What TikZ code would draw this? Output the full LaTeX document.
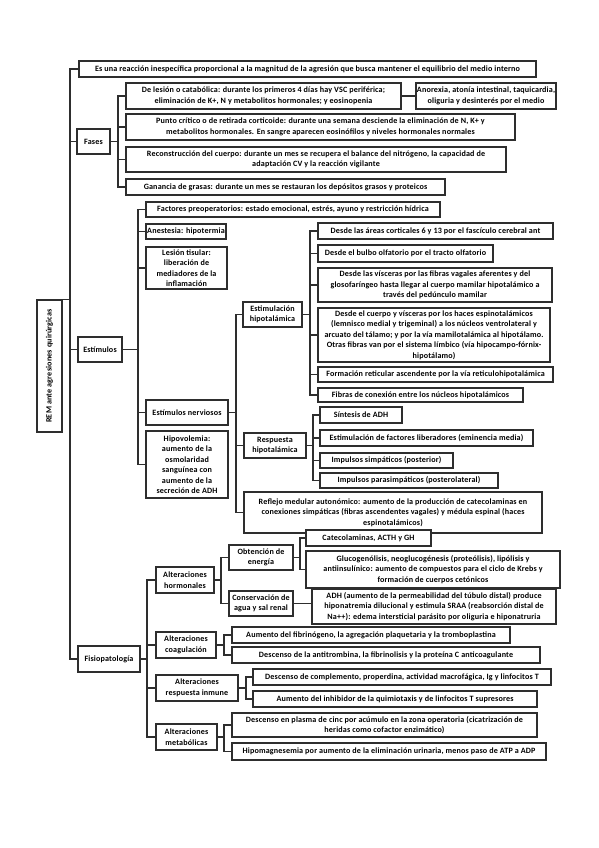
\documentclass[tikz,border=0pt]{standalone}
\usepackage{fontspec}
\setmainfont{Carlito}[LetterSpace=2]
\tikzset{
  bxs/.style={draw=black!82, line width=1.1pt, inner sep=0.5pt, align=center, fill=white,
    font=\fontsize{8.1}{10.5}\selectfont\bfseries},
  conn/.style={draw=black!82, line width=1.1pt}
}
\newcommand{\mybox}[6]{\node[bxs, minimum width={(#4-#2)*1pt}, minimum height={(#5-#3)*1pt}] (#1) at ({(#2+#4)/2},{(#3+#5)/2}) {#6};}
\newcommand{\branch}[3]{\foreach \cc in {#3} {\draw[conn] (#1.east) -- (#1.east -| #2) |- (\cc.west);}}
\begin{document}
\begin{tikzpicture}[x=1pt,y=-1pt]
\fill[white] (0,0) rectangle (599,848);
\useasboundingbox (0,0) rectangle (599,848);
% bus coordinates
\coordinate (bT) at (70,0);
\coordinate (bF) at (118,0);
\coordinate (bE) at (138,0);
\coordinate (bN) at (236,0);
\coordinate (bH) at (310,0);
\coordinate (bR) at (313,0);
\coordinate (bP) at (147,0);
\coordinate (bA) at (221,0);
\coordinate (bO) at (300,0);
\coordinate (bC) at (224,0);
\coordinate (bI) at (246,0);
\coordinate (bM) at (224,0);
% root
\node[bxs, rotate=90, minimum width=132pt, minimum height=25pt] (root) at (49.5,366) {REM ante agresiones quirúrgicas};
% level 1
\mybox{es}{79}{61}{536}{77}{Es una reacción inespecífica proporcional a la magnitud de la agresión que busca mantener el equilibrio del medio interno}
\mybox{fases}{77}{129}{110}{154}{Fases}
\mybox{est}{78}{337}{122}{362}{Estímulos}
\mybox{fis}{78}{646}{140}{672}{Fisiopatología}
% Fases
\mybox{f1}{126}{83}{401}{109}{De lesión o catabólica: durante los primeros 4 días hay VSC periférica;\\ eliminación de K+, N y metabolitos hormonales; y eosinopenia}
\mybox{f1b}{416}{83}{556}{109}{Anorexia, atonía intestinal, taquicardia,\\ oliguria y desinterés por el medio}
\mybox{f2}{126}{114}{515}{140}{Punto crítico o de retirada corticoide: durante una semana desciende la eliminación de N, K+ y\\ metabolitos hormonales. En sangre aparecen eosinófilos y niveles hormonales normales}
\mybox{f3}{126}{147}{506}{172}{Reconstrucción del cuerpo: durante un mes se recupera el balance del nitrógeno, la capacidad de\\ adaptación CV y la reacción vigilante}
\mybox{f4}{126}{179}{445}{195}{Ganancia de grasas: durante un mes se restauran los depósitos grasos y proteicos}
% Estimulos
\mybox{e1}{146}{202}{440}{217}{Factores preoperatorios: estado emocional, estrés, ayuno y restricción hídrica}
\mybox{e2}{146}{224}{226}{239}{Anestesia: hipotermia}
\mybox{e3}{146}{247}{227}{289}{Lesión tisular:\\ liberación de\\ mediadores de la\\ inflamación}
\mybox{e4}{146}{400}{228}{425}{Estímulos nerviosos}
\mybox{e5}{146}{431}{228}{498}{Hipovolemia:\\ aumento de la\\ osmolaridad\\ sanguínea con\\ aumento de la\\ secreción de ADH}
\mybox{n1}{243}{302}{302}{327}{Estimulación\\ hipotalámica}
\mybox{n2}{244}{433}{306}{458}{Respuesta\\ hipotalámica}
\mybox{n3}{244}{492}{542}{533}{Reflejo medular autonómico: aumento de la producción de catecolaminas en\\ conexiones simpáticas (fibras ascendentes vagales) y médula espinal (haces\\ espinotalámicos)}
\mybox{h1}{318}{223}{553}{239}{Desde las áreas corticales 6 y 13 por el fascículo cerebral ant}
\mybox{h2}{318}{245}{493}{262}{Desde el bulbo olfatorio por el tracto olfatorio}
\mybox{h3}{318}{268}{552}{302}{Desde las vísceras por las fibras vagales aferentes y del\\ glosofaríngeo hasta llegar al cuerpo mamilar hipotalámico a\\ través del pedúnculo mamilar}
\mybox{h4}{318}{308}{550}{362}{Desde el cuerpo y vísceras por los haces espinotalámicos\\ (lemnisco medial y trigeminal) a los núcleos ventrolateral y\\ arcuato del tálamo; y por la vía mamilotalámica al hipotálamo.\\ Otras fibras van por el sistema límbico (vía hipocampo-fórnix-\\ hipotálamo)}
\mybox{h5}{318}{367}{553}{382}{Formación reticular ascendente por la vía reticulohipotalámica}
\mybox{h6}{318}{388}{523}{402}{Fibras de conexión entre los núcleos hipotalámicos}
\mybox{r1}{320}{407}{402}{423}{Síntesis de ADH}
\mybox{r2}{320}{430}{533}{446}{Estimulación de factores liberadores (eminencia media)}
\mybox{r3}{320}{453}{453}{468}{Impulsos simpáticos (posterior)}
\mybox{r4}{320}{473}{498}{488}{Impulsos parasimpáticos (posterolateral)}
% Fisiopatologia
\mybox{a1}{156}{567}{214}{593}{Alteraciones\\ hormonales}
\mybox{a2}{156}{632}{216}{658}{Alteraciones\\ coagulación}
\mybox{a3}{156}{675}{238}{701}{Alteraciones\\ respuesta inmune}
\mybox{a4}{156}{724}{217}{750}{Alteraciones\\ metabólicas}
\mybox{o1}{229}{545}{293}{570}{Obtención de\\ energía}
\mybox{o2}{229}{591}{293}{616}{Conservación de\\ agua y sal renal}
\mybox{g1}{306}{530}{431}{546}{Catecolaminas, ACTH y GH}
\mybox{g2}{306}{551}{560}{588}{Glucogenólisis, neoglucogénesis (proteólisis), lipólisis y\\ antiinsulínico: aumento de compuestos para el ciclo de Krebs y\\ formación de cuerpos cetónicos}
\mybox{g3}{312}{589}{556}{624}{ADH (aumento de la permeabilidad del túbulo distal) produce\\ hiponatremia dilucional y estimula SRAA (reabsorción distal de\\ Na++): edema intersticial parásito por oliguria e hiponatruria}
\mybox{c1}{232}{627}{510}{643}{Aumento del fibrinógeno, la agregación plaquetaria y la tromboplastina}
\mybox{c2}{232}{647}{540}{663}{Descenso de la antitrombina, la fibrinolisis y la proteína C anticoagulante}
\mybox{i1}{253}{669}{551}{685}{Descenso de complemento, properdina, actividad macrofágica, Ig y linfocitos T}
\mybox{i2}{253}{691}{537}{707}{Aumento del inhibidor de la quimiotaxis y de linfocitos T supresores}
\mybox{m1}{232}{713}{537}{737}{Descenso en plasma de cinc por acúmulo en la zona operatoria (cicatrización de\\ heridas como cofactor enzimático)}
\mybox{m2}{232}{743}{546}{760}{Hipomagnesemia por aumento de la eliminación urinaria, menos paso de ATP a ADP}
% connectors
\branch{root}{bT}{es,fases,est,fis}
\branch{fases}{bF}{f1,f2,f3,f4}
\draw[conn] (f1.east) -- (f1b.west);
\branch{est}{bE}{e1,e2,e3,e4,e5}
\branch{e4}{bN}{n1,n2,n3}
\branch{n1}{bH}{h1,h2,h3,h4,h5,h6}
\branch{n2}{bR}{r1,r2,r3,r4}
\branch{fis}{bP}{a1,a2,a3,a4}
\branch{a1}{bA}{o1,o2}
\branch{o1}{bO}{g1,g2}
\draw[conn] (o2.east) -- (o2.east -| g3.west);
\branch{a2}{bC}{c1,c2}
\branch{a3}{bI}{i1,i2}
\branch{a4}{bM}{m1,m2}
\end{tikzpicture}
\end{document}
